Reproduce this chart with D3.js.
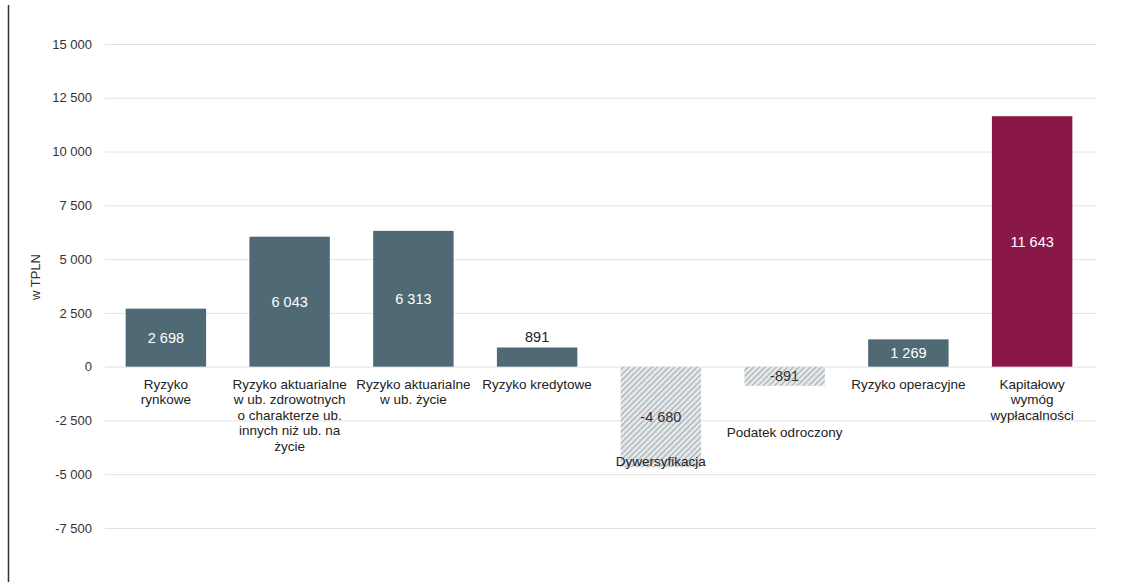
<!DOCTYPE html>
<html><head><meta charset="utf-8">
<script src="https://cdn.jsdelivr.net/npm/d3@7"></script>
<style>body{margin:0;background:#fff;}svg{display:block;font-family:"Liberation Sans",Arial,sans-serif;}</style>
</head><body><svg id="c" width="1128" height="582"></svg>
<script>
const categories = [
  ["Ryzyko","rynkowe"],
  ["Ryzyko aktuarialne","w ub. zdrowotnych","o charakterze ub.","innych niż ub. na","życie"],
  ["Ryzyko aktuarialne","w ub. życie"],
  ["Ryzyko kredytowe"],
  ["Dywersyfikacja"],
  ["Podatek odroczony"],
  ["Ryzyko operacyjne"],
  ["Kapitałowy","wymóg","wypłacalności"]
];
const values = [2698, 6043, 6313, 891, -4680, -891, 1269, 11643];
const valueLabels = ["2 698","6 043","6 313","891","-4 680","-891","1 269","11 643"];
const kinds = ["risk","risk","risk","risk","neg","neg","risk","total"];
const yTicks = [15000,12500,10000,7500,5000,2500,0,-2500,-5000,-7500];
const tickLabels = ["15 000","12 500","10 000","7 500","5 000","2 500","0","-2 500","-5 000","-7 500"];
const yTitle = "w TPLN";

// layout (not data)
const valueLabelMode = ["mid","mid","mid","above","mid","mid","mid","mid"];
const catLabelOffset = [0,0,0,0,-6,46,0,0]; // px, for negative bars relative to bar end

const svg = d3.select("#c");
const x = d3.scaleBand().domain(d3.range(categories.length)).range([104,1094]).paddingInner(0.35).paddingOuter(0.175);
const y = d3.scaleLinear().domain([-7500,15000]).range([528,44]);

const defs = svg.append("defs");
const pat = defs.append("pattern").attr("id","hatch").attr("patternUnits","userSpaceOnUse")
  .attr("width",4).attr("height",4).attr("patternTransform","rotate(45)");
pat.append("rect").attr("width",4).attr("height",4).attr("fill","#e4e7e9");
pat.append("line").attr("x1",0).attr("y1",0).attr("x2",0).attr("y2",4).attr("stroke","#98a2a8").attr("stroke-width",1.8);

// left border
svg.append("line").attr("x1",8.5).attr("x2",8.5).attr("y1",5).attr("y2",582).attr("stroke","#333").attr("stroke-width",1.5);

// grid
const yAxis = d3.axisLeft(y).tickValues(yTicks).tickFormat((d,i)=>tickLabels[i]).tickSize(-(1096-105)).tickPadding(13);
const gA = svg.append("g").attr("transform","translate(105,0)").call(yAxis);
gA.select(".domain").remove();
gA.selectAll(".tick line").attr("stroke","#e2e2e2").attr("stroke-width",1);
gA.selectAll(".tick text").attr("fill","#333").attr("font-size",13);

svg.append("text").attr("transform","translate(40,277) rotate(-90)").attr("text-anchor","middle")
  .attr("font-size",13).attr("fill","#333").text(yTitle);

const colors = {risk:"#506a75", total:"#8a1846", neg:"url(#hatch)"};
const bw = x.bandwidth();
values.forEach((v,i)=>{
  const x0 = x(i);
  svg.append("rect").attr("x",x0).attr("width",bw)
    .attr("y",Math.min(y(0),y(v))).attr("height",Math.abs(y(v)-y(0)))
    .attr("fill",colors[kinds[i]]);
  let ly, col;
  if (valueLabelMode[i]==="above") { ly = y(v)-11; col="#222"; }
  else { ly = (y(0)+y(v))/2; col = kinds[i]==="neg" ? "#333" : "#fff"; }
  svg.append("text").attr("x",x0+bw/2).attr("y",ly).attr("dy","0.35em").attr("text-anchor","middle")
    .attr("font-size",14.5).attr("fill",col).text(valueLabels[i]);
  // category label
  const lines = categories[i];
  let top = v<0 ? y(v)+catLabelOffset[i] : 384;
  const t = svg.append("text").attr("text-anchor","middle").attr("font-size",13.5).attr("fill","#222");
  lines.forEach((ln,k)=>{
    t.append("tspan").attr("x",x0+bw/2).attr("y",top+k*15.5).attr("dy","0.35em").text(ln);
  });
});
</script></body></html>
